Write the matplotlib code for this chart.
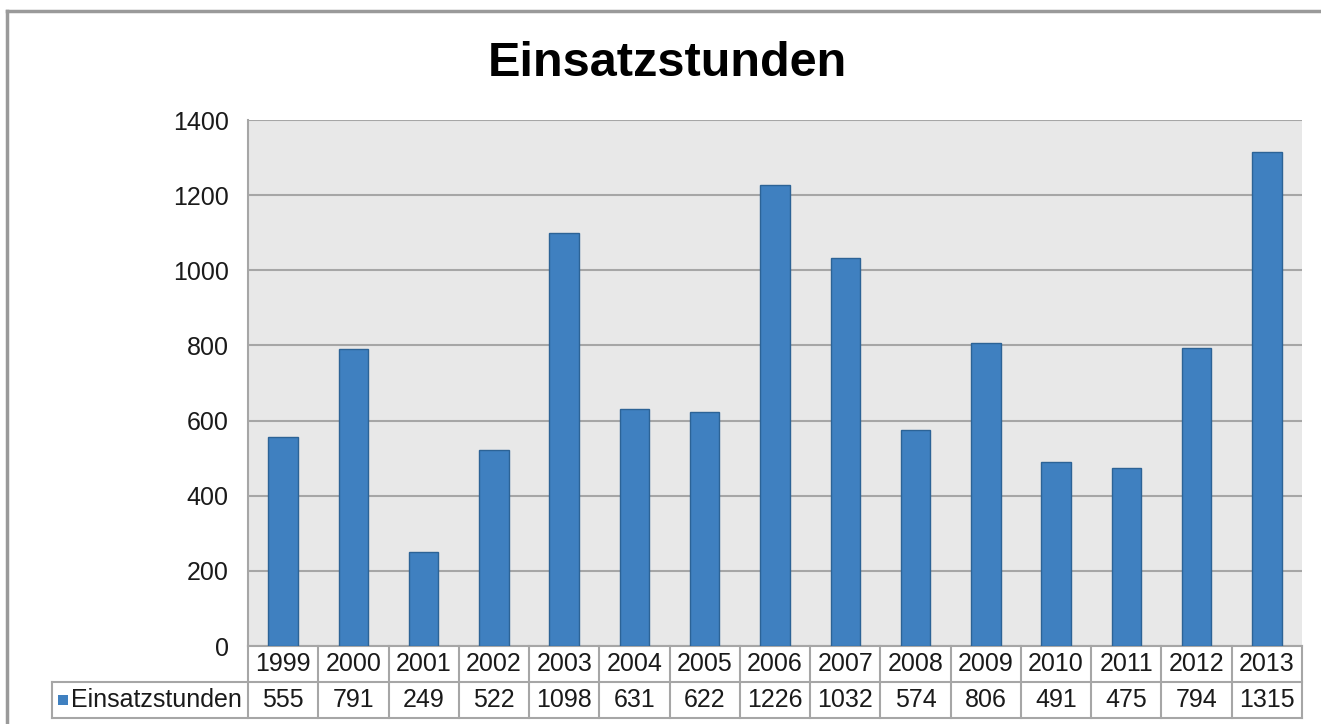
import numpy as np
import matplotlib.pyplot as plt
from matplotlib.patches import Rectangle
from matplotlib.transforms import blended_transform_factory

# data
years = ['1999', '2000', '2001', '2002', '2003', '2004', '2005', '2006',
         '2007', '2008', '2009', '2010', '2011', '2012', '2013']
hours = [555, 791, 249, 522, 1098, 631, 622, 1226, 1032, 574, 806, 491, 475, 794, 1315]
series_name = 'Einsatzstunden'
y_ticks = [0, 200, 400, 600, 800, 1000, 1200, 1400]

plt.rcParams['font.family'] = ['Liberation Sans', 'DejaVu Sans']

bar_color = '#3f80c0'
edge_color = '#2c6396'
line_color = '#a6a6a6'
text_color = '#1a1a1a'
fs = 18

fig = plt.figure(figsize=(13.21, 7.24), dpi=100)
W, H = 1321, 724

# outer frame (top and left edges visible)
fig.add_artist(plt.Line2D([7 / W, 1], [1 - 11 / H, 1 - 11 / H], color='#9a9a9a', lw=2.5))
fig.add_artist(plt.Line2D([7 / W, 7 / W], [0, 1 - 11 / H], color='#9a9a9a', lw=2.5))

ax = fig.add_axes([248 / W, 78 / H, 1054 / W, 526 / H])
ax.set_facecolor('#e8e8e8')

x = np.arange(len(years))
ax.bar(x, hours, width=0.42, color=bar_color, edgecolor=edge_color, linewidth=1, zorder=3)

ax.set_xlim(-0.5, len(years) - 0.5)
ax.set_ylim(0, 1400)
ax.set_yticks(y_ticks)
ax.set_yticklabels([str(t) for t in y_ticks], fontsize=fs, color=text_color)
ax.tick_params(axis='y', length=0, pad=14)
ax.set_xticks([])
ax.grid(axis='y', color=line_color, linewidth=1.5, zorder=1)

for side in ['top', 'right', 'bottom']:
    ax.spines[side].set_visible(False)
ax.spines['left'].set_color(line_color)
ax.spines['left'].set_linewidth(1.5)

fig.suptitle('Einsatzstunden', fontsize=35, fontweight='bold', x=667 / W, y=1 - 63 / H, va='center')

# data table below the plot
trans = blended_transform_factory(ax.transData, ax.transAxes)
col_px = 1054 / len(years)
row_h = 36 / 526
legend_left = -0.5 - (248 - 52) / col_px
tk = dict(transform=trans, clip_on=False, color=line_color, lw=1.5)

# horizontal lines
ax.plot([-0.5, len(years) - 0.5], [0, 0], **tk)
ax.plot([legend_left, len(years) - 0.5], [-row_h, -row_h], **tk)
ax.plot([legend_left, len(years) - 0.5], [-2 * row_h, -2 * row_h], **tk)
# vertical lines
for i in range(len(years) + 1):
    ax.plot([i - 0.5, i - 0.5], [0, -2 * row_h], **tk)
ax.plot([legend_left, legend_left], [-row_h, -2 * row_h], **tk)

for i, (yr, v) in enumerate(zip(years, hours)):
    ax.text(i, -0.5 * row_h, yr, transform=trans, ha='center', va='center',
            fontsize=fs, color=text_color)
    ax.text(i, -1.5 * row_h, str(v), transform=trans, ha='center', va='center',
            fontsize=fs, color=text_color)

# legend key inside the table
sq = 10
ax.add_patch(Rectangle((legend_left + 6 / col_px, -1.5 * row_h - sq / 2 / 526), sq / col_px, sq / 526,
                       transform=trans, clip_on=False, facecolor=bar_color, edgecolor='none'))
ax.text(legend_left + 19 / col_px, -1.5 * row_h, series_name, transform=trans, ha='left', va='center',
        fontsize=fs, color=text_color)

fig.savefig('out.png', dpi=100)
